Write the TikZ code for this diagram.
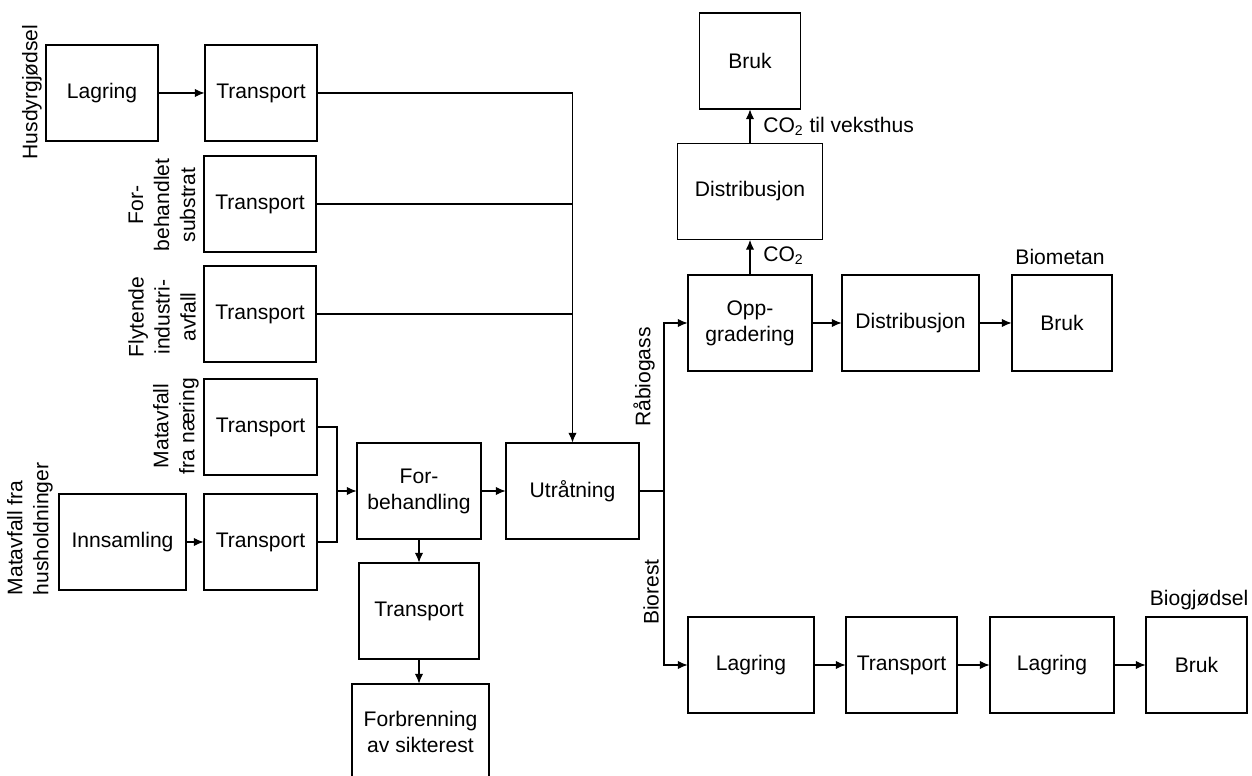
\documentclass[tikz,border=0pt]{standalone}
\usepackage{fontspec}
\setmainfont{Liberation Sans}
\usetikzlibrary{arrows.meta}

\begin{document}
\begin{tikzpicture}[x=0.02cm, y=-0.02cm,
	box/.style={draw, line width=0.6pt, minimum height=1.92cm, align=center, font=\fontsize{12}{14.8}\selectfont},
	lbl/.style={font=\fontsize{12}{14.8}\selectfont, inner sep=0pt},
	side/.style={lbl, rotate=90, align=center},
	flow/.style={line width=0.6pt, -{Latex[length=5.5pt,width=4.8pt]}},
	pipe/.style={line width=0.6pt}]
	\useasboundingbox (0,0) rectangle (1252,776);

	% inputs
	\node[box, minimum width=2.24cm] (lag1) at (102,93) {Lagring};
	\node[box, minimum width=2.24cm] (tr1) at (261,93) {Transport};
	\node[box, minimum width=2.24cm] (tr2) at (260,204) {Transport};
	\node[box, minimum width=2.24cm] (tr3) at (260,314) {Transport};
	\node[box, minimum width=2.26cm] (tr4) at (260.5,427) {Transport};
	\node[box, minimum width=2.26cm] (tr5) at (260.5,542) {Transport};
	\node[box, minimum width=2.54cm] (inns) at (122.5,542) {Innsamling};

	\node[side] (husdyr) at (32,92) {Husdyrgjødsel};
	\node[side] (substr) at (162,205) {For-\\behandlet\\substrat};
	\node[side] (flyt) at (162,317) {Flytende\\industri-\\avfall};
	\node[side] (naering) at (176,426) {Matavfall\\fra næring};
	\node[side, align=left] (hush) at (30,529) {Matavfall fra\\husholdninger};

	% process
	\node[box, minimum width=2.48cm] (forb) at (419,491) {For-\\behandling};
	\node[box, minimum width=2.66cm] (utr) at (572.5,491) {Utråtning};
	\node[box, minimum width=2.40cm] (tr6) at (419,611) {Transport};
	\node[box, minimum width=2.74cm] (forbr) at (420.5,732) {Forbrenning\\av sikterest};

	% gas
	\node[box, minimum width=2.48cm] (opp) at (750,323) {Opp-\\gradering};
	\node[box, minimum width=2.90cm] (dist1) at (750,191.5) {Distribusjon};
	\node[box, minimum width=2.02cm] (bruk1) at (750,61) {Bruk};
	\node[box, minimum width=2.74cm] (dist2) at (910.5,323) {Distribusjon};
	\node[box, minimum width=2.00cm] (bruk2) at (1062,323) {Bruk};

	% digestate
	\node[box, minimum width=2.52cm] (lag3) at (751,665) {Lagring};
	\node[box, minimum width=2.22cm] (tr7) at (901.5,665) {Transport};
	\node[box, minimum width=2.48cm] (lag4) at (1052,665) {Lagring};
	\node[box, minimum width=2.02cm] (bruk3) at (1196.5,665) {Bruk};

	\node[side] (raa) at (644,377) {Råbiogass};
	\node[side] (biorest) at (651,592) {Biorest};
	\node[lbl, anchor=west] (co2a) at (763,256) {CO\textsubscript{2}};
	\node[lbl, anchor=west] (co2b) at (763,126) {CO\textsubscript{2} til veksthus};
	\node[lbl] (biomet) at (1060,257) {Biometan};
	\node[lbl] (biogj) at (1199,600) {Biogjødsel};

	\coordinate (jn) at (337,491);
	\coordinate (sp) at (664,491);

	% connectors
	\draw[flow] (lag1) -- (tr1);
	\draw[flow] (tr1.east) -| (utr.north);
	\draw[pipe] (tr2.east) -- (tr2.east -| utr.north);
	\draw[pipe] (tr3.east) -- (tr3.east -| utr.north);
	\draw[pipe] (tr4.east) -| (jn);
	\draw[pipe] (tr5.east) -| (jn);
	\draw[flow] (inns) -- (tr5);
	\draw[flow] (jn) -- (forb.west);
	\draw[flow] (forb) -- (utr);
	\draw[flow] (forb) -- (tr6);
	\draw[flow] (tr6.south) -- (tr6.south |- forbr.north);
	\draw[pipe] (utr.east) -- (sp);
	\draw[flow] (sp) |- (opp.west);
	\draw[flow] (sp) |- (lag3.west);
	\draw[flow] (opp) -- (dist1);
	\draw[flow] (dist1) -- (bruk1);
	\draw[flow] (opp) -- (dist2);
	\draw[flow] (dist2) -- (bruk2);
	\draw[flow] (lag3) -- (tr7);
	\draw[flow] (tr7) -- (lag4);
	\draw[flow] (lag4) -- (bruk3);
\end{tikzpicture}
\end{document}
